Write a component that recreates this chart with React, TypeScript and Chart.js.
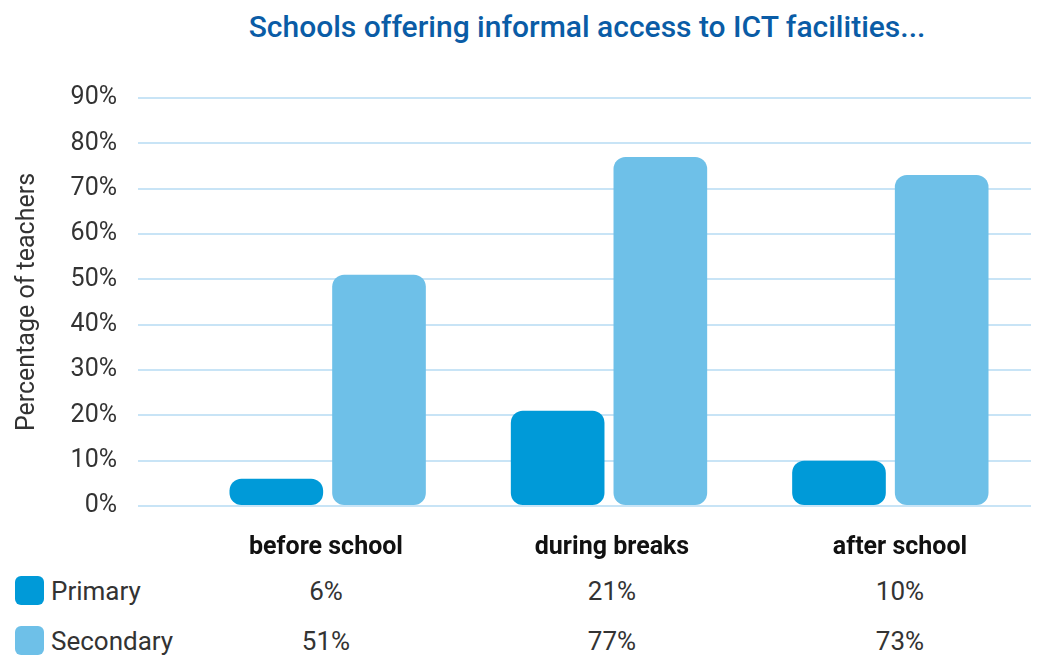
import React, { useEffect, useRef } from "react";
import { Chart, registerables } from "chart.js";

Chart.register(...registerables);

const TITLE = "Schools offering informal access to ICT facilities...";
const Y_TITLE = "Percentage of teachers";
const CATEGORIES = ["before school", "during breaks", "after school"];
const SERIES_NAMES = ["Primary", "Secondary"];
const PRIMARY = [6, 21, 10];
const SECONDARY = [51, 77, 73];
const Y_TICKS = [0, 10, 20, 30, 40, 50, 60, 70, 80, 90];
const COLORS = ["#009ad8", "#6ec0e8"];

const FONT = "Roboto, 'Noto Sans', sans-serif";
const TEXT = "#333333";
const GRID = "#c8e4f6";

export default function App() {
  const ref = useRef<HTMLCanvasElement | null>(null);

  useEffect(() => {
    if (!ref.current) return;
    const chart = new Chart(ref.current, {
      type: "bar",
      data: {
        labels: CATEGORIES,
        datasets: [
          {
            label: SERIES_NAMES[0],
            data: PRIMARY,
            backgroundColor: COLORS[0],
            borderRadius: 12,
            borderSkipped: false,
            categoryPercentage: 0.73,
            barPercentage: 0.912,
          },
          {
            label: SERIES_NAMES[1],
            data: SECONDARY,
            backgroundColor: COLORS[1],
            borderRadius: 12,
            borderSkipped: false,
            categoryPercentage: 0.73,
            barPercentage: 0.912,
          },
        ],
      },
      options: {
        responsive: false,
        animation: false,
        layout: { padding: { top: 98, bottom: 14, left: 0, right: 10 } },
        plugins: {
          legend: { display: false },
          title: { display: false },
          tooltip: { enabled: false },
        },
        scales: {
          x: { display: false },
          y: {
            min: 0,
            max: 90,
            afterFit: (scale: any) => {
              scale.width = 187;
            },
            afterBuildTicks: (scale: any) => {
              scale.ticks = Y_TICKS.map((v) => ({ value: v }));
            },
            border: { display: false },
            grid: {
              color: GRID,
              lineWidth: 2,
              drawTicks: true,
              tickLength: 49,
              tickColor: GRID,
              tickWidth: 2,
            },
            ticks: {
              padding: 21,
              color: TEXT,
              font: { family: FONT, size: 25 },
              callback: (v: any) => v + "%",
            },
            title: {
              display: true,
              text: Y_TITLE,
              color: TEXT,
              font: { family: FONT, size: 25 },
              padding: { top: 13, bottom: 0 },
            },
          },
        },
      },
    });
    return () => chart.destroy();
  }, []);

  const colCenters = [326, 612, 900];
  const rowY = [591, 641];
  const rows = [PRIMARY, SECONDARY];

  return (
    <div
      style={{
        position: "absolute",
        left: 0,
        top: 0,
        width: 1041,
        height: 657,
        background: "#ffffff",
        fontFamily: FONT,
        overflow: "hidden",
      }}
    >
      <div
        style={{
          position: "absolute",
          left: 587,
          top: 26,
          transform: "translate(-50%, -50%)",
          whiteSpace: "nowrap",
          color: "#0a5ca6",
          fontSize: 30,
          fontWeight: 500,
        }}
      >
        {TITLE}
      </div>
      <canvas
        ref={ref}
        width={1041}
        height={542}
        style={{ position: "absolute", left: 0, top: 0, width: 1041, height: 542 }}
      />
      {CATEGORIES.map((c, i) => (
        <div
          key={c}
          style={{
            position: "absolute",
            left: colCenters[i],
            top: 545,
            transform: "translate(-50%, -50%)",
            whiteSpace: "nowrap",
            color: "#111111",
            fontSize: 25,
            fontWeight: 700,
          }}
        >
          {c}
        </div>
      ))}
      {SERIES_NAMES.map((name, r) => (
        <React.Fragment key={name}>
          <div
            style={{
              position: "absolute",
              left: 15,
              top: rowY[r] - 15,
              width: 29,
              height: 29,
              borderRadius: 6,
              background: COLORS[r],
            }}
          />
          <div
            style={{
              position: "absolute",
              left: 51,
              top: rowY[r],
              transform: "translateY(-50%)",
              whiteSpace: "nowrap",
              color: TEXT,
              fontSize: 26,
            }}
          >
            {name}
          </div>
          {rows[r].map((v, i) => (
            <div
              key={i}
              style={{
                position: "absolute",
                left: colCenters[i],
                top: rowY[r],
                transform: "translate(-50%, -50%)",
                whiteSpace: "nowrap",
                color: TEXT,
                fontSize: 26,
              }}
            >
              {v + "%"}
            </div>
          ))}
        </React.Fragment>
      ))}
    </div>
  );
}
